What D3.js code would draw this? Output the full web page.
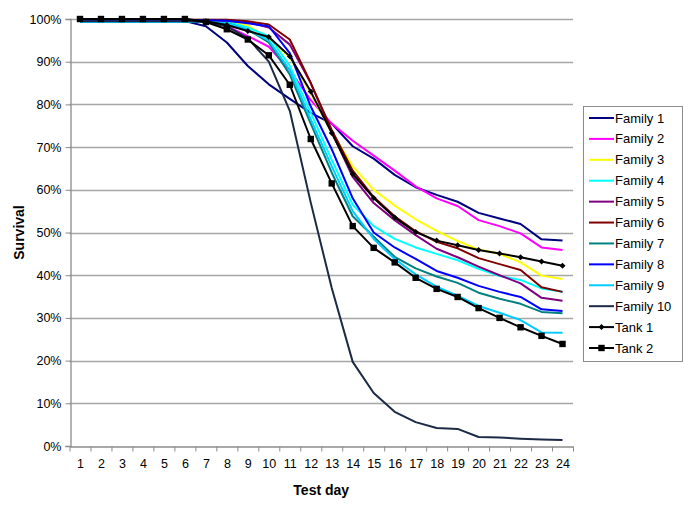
<!DOCTYPE html>
<html><head><meta charset="utf-8">
<script src="https://cdn.jsdelivr.net/npm/d3@7"></script>
<style>
body{margin:0;background:#fff;}
text{font-family:"Liberation Sans",Arial,sans-serif;}
</style></head>
<body><svg id="c" width="685" height="513"></svg>
<script>
const days = d3.range(1, 25);
const yTicks = [0,10,20,30,40,50,60,70,80,90,100];
const seriesNames = ["Family 1","Family 2","Family 3","Family 4","Family 5","Family 6","Family 7","Family 8","Family 9","Family 10","Tank 1","Tank 2"];
const seriesColors = ["#000080","#FF00FF","#FFFF00","#00FFFF","#800080","#800000","#008080","#0000FF","#00CCFF","#1c2a45","#000000","#000000"];
const seriesMarkers = [null,null,null,null,null,null,null,null,null,null,"diamond","square"];

const family1  = [99.8,99.8,99.8,99.8,99.7,99.5,98.3,94.5,89,84.7,81.3,78,75.5,70.2,67.3,63.5,60.6,58.8,57.2,54.6,53.3,52,48.4,48.1];
const family2  = [99.5,99.5,99.5,99.5,99.5,99.5,99.3,98.3,96,93.5,88,81,75.5,71.5,68,64.5,60.8,58,56.2,52.9,51.5,49.8,46.5,45.9];
const family3  = [99.5,99.5,99.5,99.5,99.5,99.5,99.5,99.5,98.5,95.5,91,82.5,73.5,65.5,60,56.3,53.1,50.4,48,46,45,43,39.9,39.1];
const family4  = [99.3,99.3,99.3,99.3,99.3,99.3,99.3,99.3,98,96,89,78,67,56.5,51.5,48.5,46.5,45,43.5,41.5,39.8,38.9,36.9,36.1];
const family5  = [99.6,99.6,99.6,99.6,99.6,99.6,99.6,99.6,99.3,98,94,85,73.5,63,56.9,52.9,49.4,46.2,44.2,42,40,38.1,34.7,34];
const family6  = [99.8,99.8,99.8,99.8,99.8,99.8,99.8,99.8,99.5,98.7,95.2,85,74,64.5,58.3,53.8,50.3,47.8,46.3,44,42.6,41.2,37.2,36.1];
const family7  = [99.3,99.3,99.3,99.3,99.3,99.3,99.3,99,97.5,94.5,87,75.5,64,53.8,49,44.3,41.6,39.7,38.2,35.9,34.5,33.3,31.4,31.1];
const family8  = [99.7,99.7,99.7,99.7,99.7,99.7,99.7,99.6,99,98.3,92,79.5,69.5,58,50,46.5,43.8,41,39.4,37.5,36.1,34.9,32,31.6];
const family9  = [99.3,99.3,99.3,99.3,99.3,99.3,99.3,99,97.5,95,88,76.5,65.5,55,48.5,43.8,40.2,37.3,35.2,32.8,31.2,29.5,26.6,26.5];
const family10 = [99.5,99.5,99.5,99.5,99.5,99.5,99.3,98.3,95.5,90,78.5,57,37,19.7,12.4,8,5.6,4.2,4,2.1,2,1.7,1.5,1.4];
const tank1    = [100,100,100,100,100,100,99.5,98.6,97.2,95.8,91.3,83,73.3,63.7,58.1,53.5,50.1,48.1,47,45.9,45.1,44.2,43.2,42.2];
const tank2    = [100,100,100,100,100,100,99.3,97.6,95.2,91.5,84.6,71.9,61.5,51.5,46.4,43,39.4,36.8,34.9,32.3,30,27.8,25.8,23.9];
const seriesValues = [family1,family2,family3,family4,family5,family6,family7,family8,family9,family10,tank1,tank2];

const svg = d3.select("#c");
const L = 69.5, R = 573, T = 19, B = 446;
const x = d3.scaleLinear().domain([0.5, 24.5]).range([L, R]);
const y = d3.scaleLinear().domain([0, 100]).range([B, T]);

// gridlines
svg.append("g").selectAll("line").data(yTicks.filter(d=>d>0)).join("line")
  .attr("x1", L).attr("x2", R).attr("y1", d=>Math.round(y(d))+0.5).attr("y2", d=>Math.round(y(d))+0.5)
  .attr("stroke", "#a6a6a6").attr("stroke-width", 1.3);

// y axis
const yAxis = svg.append("g").attr("transform", `translate(${Math.round(L)+0.5},0)`)
  .call(d3.axisLeft(y).tickValues(yTicks).tickFormat(d=>d+"%").tickSize(5).tickPadding(4));
yAxis.select(".domain").attr("stroke","#8c8c8c").attr("stroke-width",1.3);
yAxis.selectAll(".tick line").attr("stroke","#8c8c8c");
yAxis.selectAll("text").attr("font-size", 12.5).attr("fill","#000");

// x axis ticks at boundaries
const xb = d3.range(0.5, 25, 1);
const xAxis = svg.append("g").attr("transform", `translate(0,${Math.round(B)+0.5})`)
  .call(d3.axisBottom(x).tickValues(xb).tickFormat("").tickSize(5).tickSizeOuter(0));
xAxis.select(".domain").attr("stroke","#8c8c8c").attr("stroke-width",1.3);
xAxis.selectAll(".tick line").attr("stroke","#8c8c8c");
const xLab = svg.append("g").attr("transform", `translate(0,${B+7})`)
  .call(d3.axisBottom(x).tickValues(days).tickFormat(d3.format("d")).tickSize(0).tickPadding(6));
xLab.select(".domain").remove();
xLab.selectAll("text").attr("font-size", 12.5).attr("fill","#000");

// axis titles
svg.append("text").attr("x", (L+R)/2).attr("y", 495).attr("text-anchor","middle")
  .attr("font-size", 14).attr("font-weight","bold").text("Test day");
svg.append("text").attr("transform", `translate(24,${(T+B)/2}) rotate(-90)`).attr("text-anchor","middle")
  .attr("font-size", 14).attr("font-weight","bold").text("Survival");

// lines
const line = d3.line().x((d,i)=>x(days[i])).y(d=>y(d));
seriesValues.forEach((vals, si) => {
  svg.append("path").datum(vals).attr("d", line).attr("fill","none")
    .attr("stroke", seriesColors[si]).attr("stroke-width", 2).attr("stroke-linejoin","round");
});
function drawMarker(g, type, cx, cy, color){
  if (type === "square") {
    g.append("rect").attr("x", cx-3.2).attr("y", cy-3.2).attr("width", 6.4).attr("height", 6.4).attr("fill", color);
  } else if (type === "diamond") {
    g.append("path").attr("d", `M${cx},${cy-3} L${cx+3},${cy} L${cx},${cy+3} L${cx-3},${cy} Z`).attr("fill", color);
  }
}
seriesValues.forEach((vals, si) => {
  if (!seriesMarkers[si]) return;
  const g = svg.append("g");
  vals.forEach((v,i)=> drawMarker(g, seriesMarkers[si], x(days[i]), y(v), seriesColors[si]));
});

// legend
const lg = svg.append("g");
lg.append("rect").attr("x", 583.5).attr("y", 106.5).attr("width", 99).attr("height", 255)
  .attr("fill","#fff").attr("stroke","#8c8c8c").attr("stroke-width",1);
const ly = d3.scaleLinear().domain([0, seriesNames.length-1]).range([118, 348]);
seriesNames.forEach((n, i) => {
  const yy = ly(i);
  lg.append("line").attr("x1", 589).attr("x2", 614).attr("y1", yy).attr("y2", yy)
    .attr("stroke", seriesColors[i]).attr("stroke-width", 2);
  if (seriesMarkers[i]) drawMarker(lg, seriesMarkers[i], 601.5, yy, seriesColors[i]);
  lg.append("text").attr("x", 615).attr("y", yy).attr("dy","0.35em").attr("font-size", 13).attr("fill","#000").text(n);
});
</script></body></html>
